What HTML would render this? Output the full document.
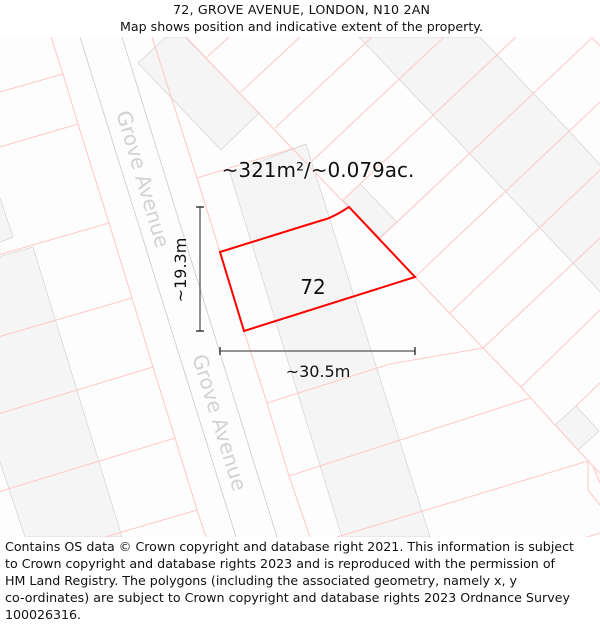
<!DOCTYPE html>
<html>
<head>
<meta charset="utf-8">
<title>72, Grove Avenue map</title>
<style>
html,body{margin:0;padding:0;background:#fff;width:600px;height:625px;overflow:hidden}
svg{display:block;font-family:"DejaVu Sans","Liberation Sans",sans-serif}
.p{stroke:#ffcaca;stroke-width:1.1;fill:none}
.g{stroke:#cfcfcf;stroke-width:.9;fill:none}
.b{fill:#f5f5f5;stroke:#d2d2d2;stroke-width:.7}
.road{font-size:20.2px;fill:#d2d2d2}
.foot{font-size:12.65px;fill:#111}
</style>
</head>
<body>
<svg width="600" height="625" viewBox="0 0 600 625">
  <rect x="0" y="0" width="600" height="625" fill="#fff"/>
  <text x="173" y="14" font-size="12.650" textLength="257" fill="#111">72, GROVE AVENUE, LONDON, N10 2AN</text>
  <text x="120" y="31" font-size="12.650" textLength="363" fill="#111">Map shows position and indicative extent of the property.</text>

  <svg x="0" y="37" width="600" height="500" viewBox="0 37 600 500">
    <rect x="0" y="37" width="600" height="500" fill="#fdfdfd"/>
    <g>
      <polygon class="b" points="166,37 138,63 221,150 259,113 185,37"/>
      <polygon class="b" points="230,173 306,144 430,537 342,537"/>
      <polygon class="b" points="343,200 360,184 397,222 380,238"/>
      <polygon class="b" points="359,37 399,79 433,115 470,154 506,192 539,227 573,263 604,296 604,169 569,131 534,94 497,55 480,37"/>
      <polygon class="b" points="555,425 576,406 599,431 578,450"/>
      <polygon class="b" points="-2,192 13,237 -2,243"/>
      <polygon class="b" points="-2,257 33,247 122,537 25,537 -2,456"/>
    </g>
    <g>
      <line class="g" x1="80" y1="37" x2="236" y2="537"/>
      <line class="g" x1="122" y1="37" x2="277" y2="537"/>
    </g>
    <g>
      <polyline class="p" points="51,37 63,74 78,124 109,223 132,298 153,367 175,438 197,510 206,537"/>
      <polyline class="p" points="152,37 197,178 220,252 244,331 267,403 289,476 310,537"/>
      <polyline class="p" points="186,37 415,277 483,348 521,387 555,425 578,450 593,466 600,473"/>
      <path class="p" d="M-2,92.500L63,74M-2,147.500L78,124M-2,255L109,223M-2,337L132,298M-2,414L153,367M-2,492L175,438M105,537L197,510"/>
      <path class="p" d="M197,178L295,148M267,403L390,364L483,348M289,476L530,398M337,537L588,461"/>
      <path class="p" d="M207,57L229,37M241,92L300,37M275,128L372,37M310,163L444,37M343,200L516,37M380,238L592,38L600,46M415,277L600,102M450,313L600,170M483,348L600,238M521,387L600,310M576,406L600,383"/>
      <path class="p" d="M588,461L588,490L600,505M593,466L600,483M587,537L600,533"/>
    </g>
    <text class="road" transform="translate(143,179) rotate(73.500)" text-anchor="middle" dominant-baseline="central">Grove Avenue</text>
    <text class="road" transform="translate(219.500,422.500) rotate(73)" text-anchor="middle" dominant-baseline="central">Grove Avenue</text>
    <path d="M220,252L297,228L323,220Q332,218 349,207L415,277L244,331Z" fill="none" stroke="#ff0000" stroke-width="2" stroke-linejoin="miter"/>
    <g stroke="#555" stroke-width="1.300">
      <line x1="200" y1="207" x2="200" y2="331"/>
      <line x1="196" y1="207" x2="204" y2="207" stroke="#222"/>
      <line x1="196" y1="331" x2="204" y2="331" stroke="#222"/>
    </g>
    <g stroke="#555" stroke-width="1.300">
      <line x1="220" y1="351" x2="415" y2="351"/>
      <line x1="220" y1="347" x2="220" y2="355" stroke="#222"/>
      <line x1="415" y1="347" x2="415" y2="355" stroke="#222"/>
    </g>
    <text x="318" y="177" font-size="20" text-anchor="middle" fill="#111" stroke="#fff" stroke-opacity=".7" stroke-width="2" paint-order="stroke">~321m²/~0.079ac.</text>
    <text x="313" y="294" font-size="20" text-anchor="middle" fill="#111">72</text>
    <text x="318" y="377" font-size="16" text-anchor="middle" fill="#111">~30.5m</text>
    <text transform="translate(186,270) rotate(-90)" font-size="16" text-anchor="middle" fill="#111">~19.3m</text>
  </svg>

  <g>
    <text class="foot" x="5" y="551" textLength="569">Contains OS data © Crown copyright and database right 2021. This information is subject</text>
    <text class="foot" x="5" y="568" textLength="550">to Crown copyright and database rights 2023 and is reproduced with the permission of</text>
    <text class="foot" x="5" y="585" textLength="512">HM Land Registry. The polygons (including the associated geometry, namely x, y</text>
    <text class="foot" x="5" y="602" textLength="565">co-ordinates) are subject to Crown copyright and database rights 2023 Ordnance Survey</text>
    <text class="foot" x="5" y="619" textLength="76">100026316.</text>
  </g>
</svg>
</body>
</html>
